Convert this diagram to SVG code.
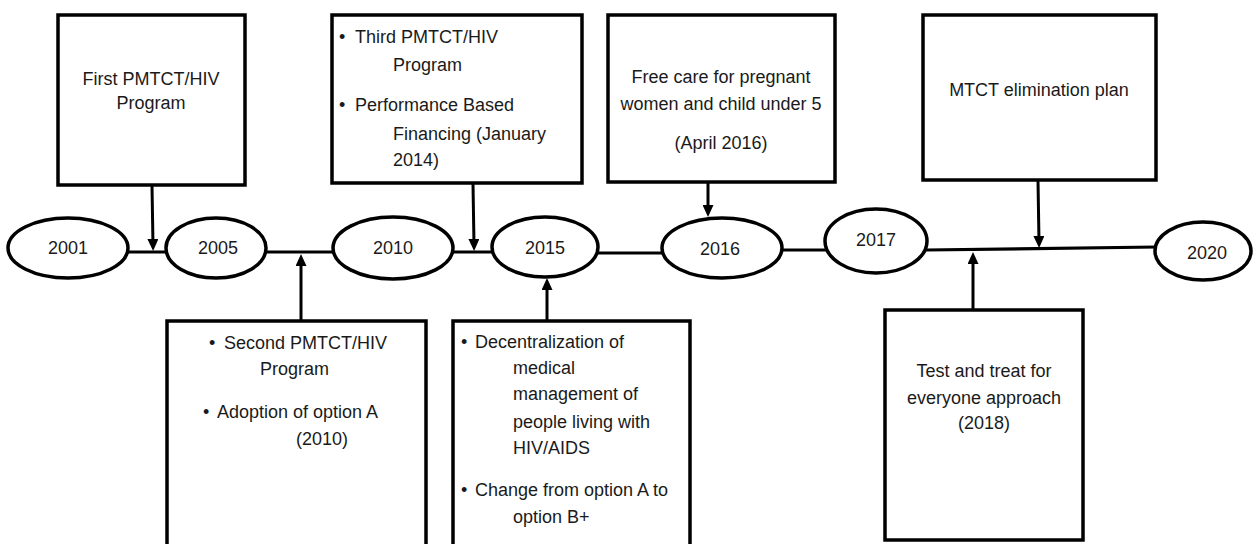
<svg xmlns="http://www.w3.org/2000/svg" width="1253" height="544" viewBox="0 0 1253 544">
<style>
.box{fill:#fff;stroke:#000;stroke-width:3.5}
.yr{fill:#fff;stroke:#000;stroke-width:3.5}
.ln{stroke:#000;stroke-width:3.2;fill:none}
.ar{stroke:#000;stroke-width:3;fill:none;marker-end:url(#ah)}
text{font-family:"Liberation Sans",Arial,sans-serif;font-size:18px;fill:#1a1a1a}
.c{text-anchor:middle}
</style>
<defs>
<marker id="ah" viewBox="0 0 12 11" refX="6" refY="5.5" markerWidth="12" markerHeight="11" markerUnits="userSpaceOnUse" orient="auto">
<path d="M0,0 L12,5.5 L0,11 z" fill="#000"/>
</marker>
</defs>
<rect width="1253" height="544" fill="#fff"/>

<g id="timeline">
<line class="ln" x1="126" y1="252" x2="168" y2="252"/>
<line class="ln" x1="265" y1="252" x2="335" y2="252"/>
<line class="ln" x1="451" y1="252" x2="494" y2="252"/>
<line class="ln" x1="596" y1="253" x2="664" y2="253"/>
<line class="ln" x1="781" y1="250" x2="827" y2="250"/>
<line class="ln" x1="926" y1="250" x2="1157" y2="247"/>
</g>

<g id="y2001"><ellipse class="yr" cx="68" cy="248" rx="60" ry="30"/><text class="c" x="68" y="254">2001</text></g>
<g id="y2005"><ellipse class="yr" cx="216" cy="248" rx="50" ry="30"/><text class="c" x="218" y="254">2005</text></g>
<g id="y2010"><ellipse class="yr" cx="393" cy="248" rx="60" ry="31"/><text class="c" x="393" y="254">2010</text></g>
<g id="y2015"><ellipse class="yr" cx="545" cy="247" rx="53" ry="30"/><text class="c" x="545" y="254">2015</text></g>
<g id="y2016"><ellipse class="yr" cx="722" cy="248" rx="60" ry="30"/><text class="c" x="720" y="255">2016</text></g>
<g id="y2017"><ellipse class="yr" cx="876" cy="241" rx="51" ry="32"/><text class="c" x="876" y="246">2017</text></g>
<g id="y2020"><ellipse class="yr" cx="1203" cy="251" rx="48" ry="29"/><text class="c" x="1207" y="259">2020</text></g>

<g id="box-first">
<rect class="box" x="58" y="15" width="187" height="170"/>
<text class="c" x="151" y="85">First PMTCT/HIV</text>
<text class="c" x="151" y="109">Program</text>
</g>

<g id="box-third">
<rect class="box" x="332" y="15" width="250" height="168"/>
<text x="339" y="43">•</text><text x="355" y="43">Third PMTCT/HIV</text>
<text x="393" y="71">Program</text>
<text x="339" y="111">•</text><text x="355" y="111">Performance Based</text>
<text x="393" y="140">Financing (January</text>
<text x="393" y="166">2014)</text>
</g>

<g id="box-freecare">
<rect class="box" x="608" y="15" width="227" height="167"/>
<text class="c" x="721" y="83">Free care for pregnant</text>
<text class="c" x="721" y="110">women and child under 5</text>
<text class="c" x="721" y="149">(April 2016)</text>
</g>

<g id="box-mtct">
<rect class="box" x="923" y="15" width="233" height="165"/>
<text class="c" x="1039" y="96">MTCT elimination plan</text>
</g>

<g id="box-second">
<rect class="box" x="167" y="321" width="259" height="240"/>
<text x="209" y="349">•</text><text x="224" y="349">Second PMTCT/HIV</text>
<text x="260" y="375">Program</text>
<text x="203" y="418">•</text><text x="217" y="418">Adoption of option A</text>
<text x="296" y="445">(2010)</text>
</g>

<g id="box-decentral">
<rect class="box" x="453" y="321" width="237" height="240"/>
<text x="461" y="348">•</text><text x="475" y="348">Decentralization of</text>
<text x="513" y="374">medical</text>
<text x="513" y="400">management of</text>
<text x="513" y="428">people living with</text>
<text x="513" y="454">HIV/AIDS</text>
<text x="461" y="496">•</text><text x="475" y="496">Change from option A to</text>
<text x="513" y="523">option B+</text>
</g>

<g id="box-test">
<rect class="box" x="885" y="310" width="198" height="230"/>
<text class="c" x="984" y="377">Test and treat for</text>
<text class="c" x="984" y="404">everyone approach</text>
<text class="c" x="984" y="429">(2018)</text>
</g>

<g id="connectors">
<line class="ar" x1="152" y1="186" x2="153" y2="245"/>
<line class="ar" x1="473" y1="184" x2="474" y2="245"/>
<line class="ar" x1="708" y1="183" x2="708" y2="211"/>
<line class="ar" x1="1038" y1="181" x2="1039" y2="242"/>
<line class="ar" x1="301" y1="320" x2="301" y2="260"/>
<line class="ar" x1="547" y1="320" x2="547" y2="284"/>
<line class="ar" x1="973" y1="309" x2="973" y2="258"/>
</g>
</svg>
